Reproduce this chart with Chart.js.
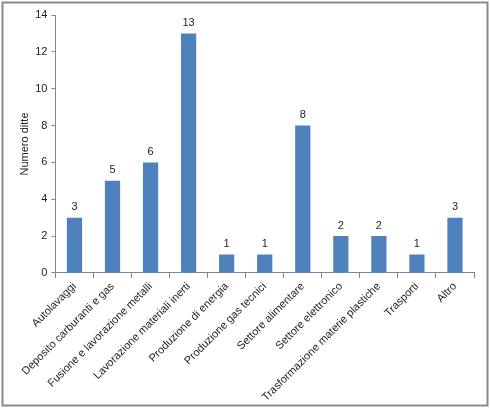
<!DOCTYPE html>
<html lang="it">
<head>
<meta charset="UTF-8">
<title>Numero ditte per settore</title>
<script src="https://cdn.jsdelivr.net/npm/chart.js@4/dist/chart.umd.min.js"></script>
<style>
  body { margin: 0; background: #fff; }
  .box { position: relative; width: 490px; height: 408px; }
</style>
</head>
<body>
<div class="box">
  <canvas id="grafico" width="490" height="408"></canvas>
</div>
<script>
  const settori = [
    'Autolavaggi',
    'Deposito carburanti e gas',
    'Fusione e lavorazione metalli',
    'Lavorazione materiali inerti',
    'Produzione di energia',
    'Produzione gas tecnici',
    'Settore alimentare',
    'Settore elettronico',
    'Trasformazione materie plastiche',
    'Trasporti',
    'Altro'
  ];
  const numeroDitte = [3, 5, 6, 13, 1, 1, 8, 2, 2, 1, 3];
  const tickY = [0, 2, 4, 6, 8, 10, 12, 14];

  // bordo esterno del grafico
  const cornice = {
    id: 'cornice',
    afterDraw(chart) {
      const ctx = chart.ctx;
      ctx.save();
      ctx.strokeStyle = '#8a8a8a';
      ctx.lineWidth = 2;
      ctx.strokeRect(2.5, 2.5, 485, 403);
      ctx.restore();
    }
  };

  // valori sopra le barre
  const etichette = {
    id: 'etichette',
    afterDatasetsDraw(chart) {
      const ctx = chart.ctx;
      const meta = chart.getDatasetMeta(0);
      ctx.save();
      ctx.font = '11px "Liberation Sans", Arial, sans-serif';
      ctx.fillStyle = '#222';
      ctx.textAlign = 'center';
      ctx.textBaseline = 'bottom';
      meta.data.forEach(function (barra, i) {
        ctx.fillText(chart.data.datasets[0].data[i], barra.x, barra.y - 5);
      });
      ctx.restore();
    }
  };

  const data = {
    labels: settori,
    datasets: [{
      label: 'Numero ditte',
      data: numeroDitte,
      backgroundColor: '#4F81BD',
      borderWidth: 0,
      barPercentage: 0.4,
      categoryPercentage: 1
    }]
  };

  const config = {
    type: 'bar',
    data: data,
    options: {
      responsive: false,
      animation: false,
      layout: { padding: { left: 18, right: 16, top: 15, bottom: 2 } },
      plugins: {
        legend: { display: false },
        tooltip: { enabled: false }
      },
      scales: {
        x: {
          grid: { display: true, drawOnChartArea: false, drawTicks: true, tickLength: 5, color: '#868686', offset: true },
          border: { color: '#868686' },
          ticks: {
            color: '#222',
            font: { family: '"Liberation Sans", Arial, sans-serif', size: 11 },
            minRotation: 45,
            maxRotation: 45,
            autoSkip: false,
            padding: 2
          }
        },
        y: {
          min: 0,
          max: 14,
          afterBuildTicks(axis) {
            axis.ticks = tickY.map(v => ({ value: v }));
          },
          grid: { display: true, drawOnChartArea: false, drawTicks: true, tickLength: 4, color: '#868686' },
          border: { color: '#868686' },
          ticks: {
            color: '#222',
            font: { family: '"Liberation Sans", Arial, sans-serif', size: 11 },
            padding: 4
          },
          title: {
            display: true,
            text: 'Numero ditte',
            color: '#222',
            font: { family: '"Liberation Sans", Arial, sans-serif', size: 11 },
            padding: { top: 0, bottom: 0 }
          }
        }
      }
    },
    plugins: [etichette, cornice]
  };

  const grafico = new Chart(document.getElementById('grafico'), config);
</script>
</body>
</html>
